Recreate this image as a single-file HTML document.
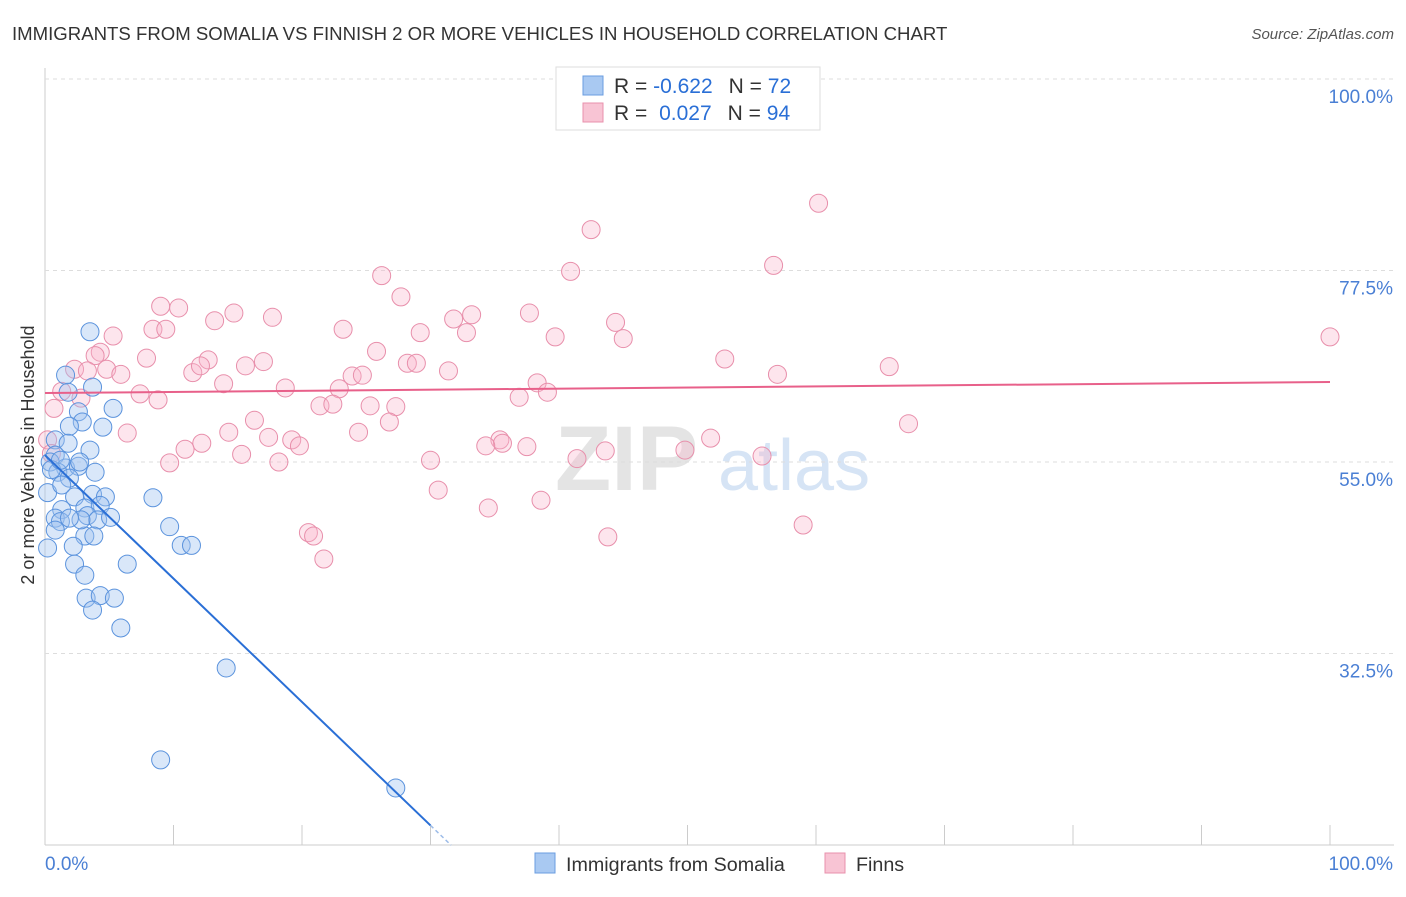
<!DOCTYPE html>
<html><head><meta charset="utf-8"><style>
body{margin:0;background:#fff;font-family:"Liberation Sans",sans-serif}
svg text{font-family:"Liberation Sans",sans-serif}
</style></head><body>
<svg id="c" width="1406" height="892">
<text x="12" y="40" font-size="18.6" fill="#333">IMMIGRANTS FROM SOMALIA VS FINNISH 2 OR MORE VEHICLES IN HOUSEHOLD CORRELATION CHART</text>
<text x="1394" y="39" font-size="15" fill="#555" font-style="italic" text-anchor="end">Source: ZipAtlas.com</text>
<text x="555" y="490" font-size="92" fill="#e4e4e4" font-family="Liberation Serif" font-weight="bold">ZIP</text>
<text x="718" y="490" font-size="72" fill="#d6e4f5">atlas</text>
<text transform="translate(34,455) rotate(-90)" font-size="18" fill="#333" text-anchor="middle">2 or more Vehicles in Household</text>
<g id="grid"></g><g id="pts"></g><g id="lines"></g>
<g>
<rect x="556" y="67" width="264" height="63" fill="#fff" stroke="#ddd"/>
<rect x="583" y="76" width="20" height="19" fill="#a9c9f2" stroke="#6a9de0"/>
<rect x="583" y="103" width="20" height="19" fill="#f8c4d4" stroke="#e891ac"/>
<text x="614" y="93" font-size="21" fill="#333">R = <tspan fill="#2a6fd6">-0.622</tspan><tspan dx="16">N = </tspan><tspan fill="#2a6fd6">72</tspan></text>
<text x="614" y="120" font-size="21" fill="#333">R = <tspan dx="6" fill="#2a6fd6">0.027</tspan><tspan dx="16">N = </tspan><tspan fill="#2a6fd6">94</tspan></text>
</g>
<g>
<rect x="535" y="853" width="20" height="20" fill="#a9c9f2" stroke="#6a9de0"/>
<text x="566" y="871" font-size="19.7" fill="#333">Immigrants from Somalia</text>
<rect x="825" y="853" width="20" height="20" fill="#f8c4d4" stroke="#e891ac"/>
<text x="856" y="871" font-size="19.7" fill="#333">Finns</text>
</g>
</svg>
<script>
const blueX=[3.5,1.6,3.7,1.8,5.3,2.6,2.9,1.9,4.5,0.8,1.8,3.5,0.8,0.4,1.6,2.6,3.9,1.0,1.9,0.2,2.3,3.7,4.7,8.4,1.3,3.1,4.3,0.8,3.3,4.1,1.2,9.7,0.8,3.1,3.8,2.2,10.6,11.4,0.2,2.3,6.4,3.1,3.2,4.3,5.4,3.7,5.9,14.1,9.0,27.3,0.5,1.2,2.7,1.3,5.1,2.8,1.9];
const blueY=[70.3,65.2,63.8,63.2,61.3,60.9,59.7,59.2,59.1,57.6,57.2,56.4,55.8,55.0,54.3,54.5,53.8,53.8,53.1,51.4,50.9,51.2,50.9,50.8,49.4,49.6,49.9,48.4,48.7,48.2,48.0,47.4,47.0,46.3,46.3,45.1,45.2,45.2,44.9,43.0,43.0,41.7,39.0,39.3,39.0,37.6,35.5,30.8,20.0,16.7,54.1,55.2,55.0,52.3,48.5,48.2,48.4];
const pinkX=[60.2,42.5,56.7,40.9,26.2,27.7,9.0,10.4,14.7,13.2,17.7,31.8,33.2,37.7,44.4,8.4,9.4,23.2,29.2,32.8,39.7,45.0,100,5.3,4.3,3.9,7.9,25.8,12.7,17.0,15.6,28.2,28.9,52.9,65.7,2.3,3.3,4.8,5.9,11.5,12.1,23.9,24.7,31.4,57.0,13.9,18.7,22.9,38.3,39.1,1.3,7.4,2.8,8.8,36.9,0.7,21.4,22.4,25.3,27.3,16.3,26.8,67.2,6.4,14.3,24.4,17.4,19.2,19.8,12.2,35.4,35.6,34.3,37.5,51.8,10.9,43.6,49.8,15.3,55.8,41.4,30.0,9.7,18.2,30.6,38.6,34.5,59.0,20.5,20.9,43.8,21.7,0.2,0.5];
const pinkY=[85.4,82.3,78.1,77.4,76.9,74.4,73.3,73.1,72.5,71.6,72.0,71.8,72.3,72.5,71.4,70.6,70.6,70.6,70.2,70.2,69.7,69.5,69.7,69.8,67.9,67.5,67.2,68.0,67.0,66.8,66.3,66.6,66.6,67.1,66.2,65.9,65.7,65.9,65.3,65.5,66.3,65.1,65.2,65.7,65.3,64.2,63.7,63.6,64.3,63.2,63.3,63.0,62.5,62.3,62.6,61.3,61.6,61.8,61.6,61.5,59.9,59.7,59.5,58.4,58.5,58.5,57.9,57.6,56.9,57.2,57.6,57.2,56.9,56.8,57.8,56.5,56.3,56.4,55.9,55.7,55.4,55.2,54.9,55.0,51.7,50.5,49.6,47.6,46.7,46.3,46.2,43.6,57.6,56.0];
const yTicks=[100,77.5,55,32.5];
const yTickLabels=["100.0%","77.5%","55.0%","32.5%"];
const xTickLabels=["0.0%","100.0%"];
const blueFit=[55.8,-1.45], pinkFit=[63.1,0.013];
const NS='http://www.w3.org/2000/svg';
const sx=v=>45+v*12.85, sy=v=>79+(100-v)*8.511;
function mk(t,a,p){const e=document.createElementNS(NS,t);for(const k in a)e.setAttribute(k,a[k]);p.appendChild(e);return e;}
const g=document.getElementById('grid');
mk('line',{x1:45,y1:68,x2:45,y2:845,stroke:'#ccc'},g);
mk('line',{x1:45,y1:845,x2:1394,y2:845,stroke:'#ccc'},g);
for(let i=0;i<=10;i++){const l=mk('line',{x1:sx(i*10),x2:sx(i*10),y1:825,y2:845,stroke:'#ccc'},g);

}
yTicks.forEach((v,i)=>{const l=mk('line',{x1:45,x2:1394,y1:sy(v),y2:sy(v),stroke:'#ddd','stroke-dasharray':'4 4'},g);


const t=mk('text',{x:1393,y:sy(v)+24,'font-size':19,fill:'#4a7fd4','text-anchor':'end'},g);t.textContent=yTickLabels[i];

});
[[0,45,'start'],[1,1393,'end']].forEach(([i,x,a])=>{const t=mk('text',{x:x,y:870,'font-size':19,fill:'#4a7fd4','text-anchor':a},g);t.textContent=xTickLabels[i];

});
const p=document.getElementById('pts');
pinkX.forEach((x,i)=>{const c=mk('circle',{cx:sx(x),cy:sy(pinkY[i]),r:9,fill:'rgba(248,180,202,0.35)',stroke:'#e88fab','stroke-width':1},p);

});
blueX.forEach((x,i)=>{const c=mk('circle',{cx:sx(x),cy:sy(blueY[i]),r:9,fill:'rgba(160,196,240,0.4)',stroke:'#5b93dd','stroke-width':1},p);

});
const L=document.getElementById('lines');
const f=(fit,x)=>fit[0]+fit[1]*x;
let l=mk('line',{x1:sx(0),y1:sy(f(blueFit,0)),x2:sx(30),y2:sy(f(blueFit,30)),stroke:'#2a6fd6','stroke-width':2},L);


l=mk('line',{x1:sx(30),y1:sy(f(blueFit,30)),x2:sx(31.6),y2:sy(f(blueFit,31.6)),stroke:'#9bbbe8','stroke-width':1.5,'stroke-dasharray':'4 3'},L);


l=mk('line',{x1:sx(0),y1:sy(f(pinkFit,0)),x2:sx(100),y2:sy(f(pinkFit,100)),stroke:'#e8608a','stroke-width':2},L);


</script>
</body></html>
